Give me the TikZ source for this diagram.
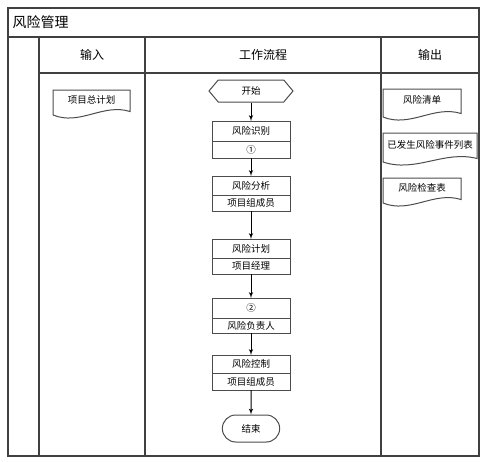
\documentclass[tikz,border=0pt]{standalone}
\usepackage{fontspec}
\setmainfont{Noto Sans CJK SC}
\usetikzlibrary{arrows,positioning,calc,shapes.symbols,shapes.misc}

\begin{document}
\begin{tikzpicture}[x=1pt, y=-1pt,
  lane/.style={draw=black!75, line width=1.3pt},
  stepbox/.style={rectangle, draw=black!70, line width=1pt, outer sep=0pt, inner sep=0pt, minimum width=78pt, font=\fontsize{9.5}{10}\selectfont},
  docbox/.style={rectangle, outer sep=0pt, inner sep=0pt, text height=7pt, text depth=6pt, font=\fontsize{9.5}{10}\selectfont},
  docline/.style={draw=black!70, line width=1pt},
  flow/.style={-latex', line width=1pt}]
\useasboundingbox (0,0) rectangle (484,461);

% swimlane frame
\draw[lane] (8,8) rectangle (479,456);
\draw[lane] (8,37) -- (479,37);
\draw[lane] (39,73) -- (479,73);
\draw[lane] (39,37) -- (39,456);
\draw[lane] (145,37) -- (145,456);
\draw[lane] (381,37) -- (381,456);

\node[anchor=west, font=\fontsize{14}{14}\selectfont] (title) at (9,22) {风险管理};
\node[font=\fontsize{12}{12}\selectfont] (hin) at (92,55) {输入};
\node[font=\fontsize{12}{12}\selectfont] (hflow) at (263,55) {工作流程};
\node[font=\fontsize{12}{12}\selectfont] (hout) at (430,55) {输出};

% inputs and outputs
\node[docbox, minimum width=77pt, minimum height=25pt] (plan) at (91.5,102.5) {项目总计划};
\node[docbox, minimum width=78pt, minimum height=28pt] (risklist) at (422,103) {风险清单};
\node[docbox, minimum width=94pt, minimum height=29pt] (events) at (430,147.5) {已发生风险事件列表};
\node[docbox, minimum width=78pt, minimum height=25pt] (checklist) at (422,190.5) {风险检查表};

% document outline with wavy bottom
\foreach \d in {plan,risklist,events,checklist}
  \draw[docline] (\d.south west) -- (\d.north west) -- (\d.north east) -- ($(\d.south east)+(0pt,3.5pt)$)
    .. controls ($(\d.south west)!0.65!(\d.south east)+(0pt,12pt)$) and ($(\d.south west)!0.35!(\d.south east)+(0pt,-11pt)$) .. (\d.south west);

% work flow
\node[signal, signal to=west and east, signal pointer angle=100, draw=black!70, line width=1pt, minimum width=84pt, minimum height=22pt, font=\fontsize{9.5}{10}\selectfont] (start) at (251,91) {开始};

\node[stepbox, minimum height=20pt] (ident) at (251,131) {风险识别};
\node[stepbox, minimum height=17pt, below=0pt of ident] (identno) {①};

\node[stepbox, minimum height=19pt] (analyse) at (251,185.5) {风险分析};
\node[stepbox, minimum height=16pt, below=0pt of analyse] (analyseby) {项目组成员};

\node[stepbox, minimum height=19pt] (plann) at (251,248.5) {风险计划};
\node[stepbox, minimum height=16pt, below=0pt of plann] (plannby) {项目经理};

\node[stepbox, minimum height=20pt] (owner) at (251,308) {②};
\node[stepbox, minimum height=15pt, below=0pt of owner] (ownerby) {风险负责人};

\node[stepbox, minimum height=18pt] (control) at (251,364) {风险控制};
\node[stepbox, minimum height=17pt, below=0pt of control] (controlby) {项目组成员};

\node[rounded rectangle, draw=black!70, line width=1pt, minimum width=64pt, minimum height=27pt, font=\fontsize{9.5}{10}\selectfont] (stop) at (251,428.5) {结束};

\draw[flow] (start) -- (ident);
\draw[flow] (identno) -- (analyse);
\draw[flow] (analyseby) -- (plann);
\draw[flow] (plannby) -- (owner);
\draw[flow] (ownerby) -- (control);
\draw[flow] (controlby) -- (stop);

\end{tikzpicture}
\end{document}
